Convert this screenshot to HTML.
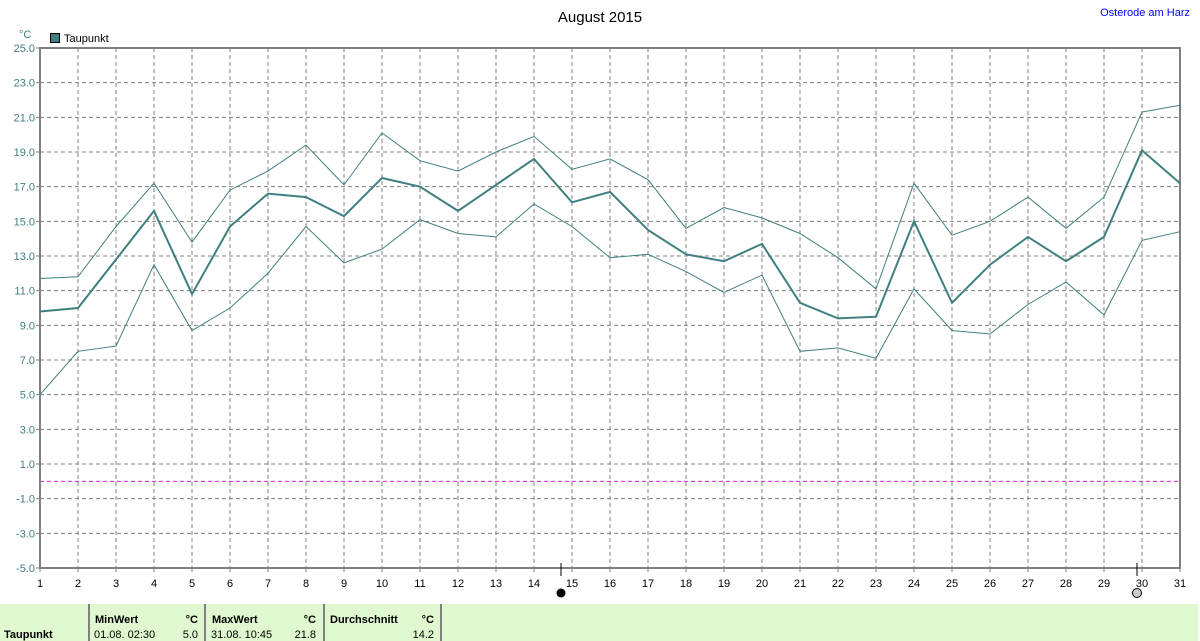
<!DOCTYPE html>
<html><head><meta charset="utf-8"><style>
body{margin:0;background:#fff;width:1200px;height:641px;overflow:hidden;font-family:"Liberation Sans",sans-serif}
svg{position:absolute;left:0;top:0}
</style></head><body>
<svg id="s" width="1200" height="641" xmlns="http://www.w3.org/2000/svg" font-family="Liberation Sans, sans-serif"></svg>
<script>
const mean=[9.8,10.0,12.8,15.6,10.8,14.7,16.6,16.4,15.3,17.5,17.0,15.6,17.1,18.6,16.1,16.7,14.5,13.1,12.7,13.7,10.3,9.4,9.5,15.0,10.3,12.5,14.1,12.7,14.1,19.1,17.2];
const mx=[11.7,11.8,14.7,17.2,13.8,16.8,17.9,19.4,17.1,20.1,18.5,17.9,19.0,19.9,18.0,18.6,17.4,14.6,15.8,15.2,14.3,12.9,11.1,17.2,14.2,15.0,16.4,14.6,16.4,21.3,21.7];
const mn=[5.0,7.5,7.8,12.5,8.7,10.0,12.0,14.7,12.6,13.4,15.1,14.3,14.1,16.0,14.7,12.9,13.1,12.1,10.9,11.9,7.5,7.7,7.1,11.1,8.7,8.5,10.2,11.5,9.6,13.9,14.4];
const X=i=>40+38*i, Y=v=>48+(25-v)*520/30;
let h='';
h+='<text x="600" y="22" font-size="15" text-anchor="middle">August 2015</text>';
h+='<text x="1190" y="16" font-size="11" fill="#0000ff" text-anchor="end">Osterode am Harz</text>';
h+='<text x="19" y="38" font-size="11" fill="#3f7f7f">°C</text>';
h+='<rect x="50.5" y="33.5" width="9" height="9" fill="#3f7f7f" stroke="#000"/><text x="64" y="42" font-size="11">Taupunkt</text>';
for(let k=0;k<=15;k++){const v=25-2*k,y=Y(v);
 if(k>0&&k<15)h+=`<line x1="40" x2="1180" y1="${y}" y2="${y}" stroke="#808080" stroke-dasharray="4,3"/>`;
 h+=`<line x1="36" x2="40" y1="${y}" y2="${y}" stroke="#808080"/>`;
 h+=`<text x="35" y="${y+4}" font-size="11" fill="#3f7f7f" text-anchor="end">${v.toFixed(1)}</text>`;}
h+=`<line x1="40" x2="1180" y1="${Y(0)}" y2="${Y(0)}" stroke="#d020d0" stroke-dasharray="4,3"/>`;
for(let i=1;i<30;i++)h+=`<line x1="${X(i)}" x2="${X(i)}" y1="48" y2="568" stroke="#808080" stroke-dasharray="4,3"/>`;
for(let i=0;i<31;i++)h+=`<text x="${X(i)}" y="587" font-size="11" text-anchor="middle">${i+1}</text><line x1="${X(i)}" x2="${X(i)}" y1="568" y2="572" stroke="#808080"/>`;
h+='<path d="M40 48H1180V568H40Z" fill="none" stroke="#808080" stroke-width="2"/>';
const pl=(a,w)=>`<polyline fill="none" stroke="#3f7f7f" stroke-width="${w}" points="${a.map((v,i)=>X(i)+','+Y(v).toFixed(1)).join(' ')}"/>`;
h+=pl(mx,1)+pl(mn,1)+pl(mean,2);
h+='<line x1="561" x2="561" y1="563" y2="576" stroke="#000"/><circle cx="561" cy="593" r="4.5" fill="#000"/>';
h+='<line x1="1137" x2="1137" y1="563" y2="576" stroke="#000"/><circle cx="1137" cy="593" r="4.5" fill="#ccc" stroke="#000"/>';
h+='<rect x="0" y="604" width="1198" height="37" fill="#e0f8d0"/>';
[89,205,324,441].forEach(x=>h+=`<line x1="${x}" x2="${x}" y1="604" y2="641" stroke="#808080" stroke-width="2"/>`);
h+='<g font-size="11"><text x="4" y="638" font-weight="bold">Taupunkt</text>';
h+='<text x="95" y="623" font-weight="bold">MinWert</text><text x="198" y="623" font-weight="bold" text-anchor="end">°C</text>';
h+='<text x="94" y="638">01.08.  02:30</text><text x="198" y="638" text-anchor="end">5.0</text>';
h+='<text x="212" y="623" font-weight="bold">MaxWert</text><text x="316" y="623" font-weight="bold" text-anchor="end">°C</text>';
h+='<text x="211" y="638">31.08.  10:45</text><text x="316" y="638" text-anchor="end">21.8</text>';
h+='<text x="330" y="623" font-weight="bold">Durchschnitt</text><text x="434" y="623" font-weight="bold" text-anchor="end">°C</text>';
h+='<text x="434" y="638" text-anchor="end">14.2</text></g>';
document.getElementById('s').innerHTML=h;
</script>
</body></html>
